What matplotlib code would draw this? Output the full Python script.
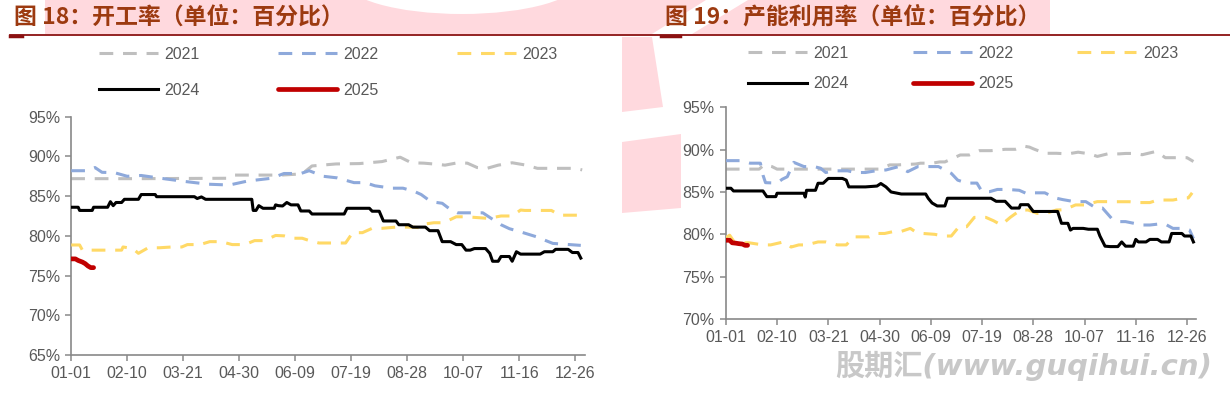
import numpy as np
import matplotlib.pyplot as plt
from matplotlib.patches import Polygon, Ellipse
from matplotlib.lines import Line2D

# ---- dados: gráfico 18 (开工率) ----
d21_a = [0, 48, 112, 116, 150, 165, 172, 189, 206, 222, 230, 235, 243, 252, 262, 267, 276, 283, 290, 297, 305, 315, 325, 333, 345, 360, 365]
v21_a = [87.2, 87.2, 87.25, 87.65, 87.65, 87.8, 88.8, 89.05, 89.1, 89.35, 89.7, 89.9, 89.2, 89.15, 89.0, 88.9, 89.2, 89.15, 88.6, 88.5, 88.9, 89.2, 88.9, 88.5, 88.5, 88.5, 88.3]
d22_a = [0, 12, 17, 22, 31, 40, 50, 64, 81, 98, 113, 126, 143, 152, 164, 170, 180, 190, 202, 210, 217, 229, 237, 245, 250, 257, 265, 271, 276, 294, 300, 307, 313, 321, 332, 344, 364]
v22_a = [88.2, 88.2, 88.6, 88.0, 87.95, 87.5, 87.6, 87.25, 86.85, 86.5, 86.4, 86.9, 87.25, 87.85, 87.85, 88.2, 87.5, 87.3, 86.7, 86.7, 86.3, 86.0, 86.0, 85.6, 85.2, 84.3, 84.1, 83.3, 82.9, 82.9, 82.2, 81.4, 80.9, 80.5, 79.9, 79.05, 78.8]
d23_a = [0, 6, 8, 36, 37, 44, 48, 55, 63, 72, 79, 83, 92, 99, 107, 115, 124, 131, 138, 146,
         152, 158, 165, 171, 177, 196, 201, 208, 215, 222, 232, 244, 250, 253, 259, 266, 275, 282, 290, 298,
         307, 315, 321, 324, 343, 349, 363]
v23_a = [78.85, 78.85, 78.2, 78.2, 78.6, 78.4, 77.8, 78.5, 78.5, 78.6, 78.6, 78.9, 78.9, 79.27, 79.27, 78.9, 78.9, 79.4, 79.4, 80.05,
         80.0, 79.7, 79.7, 79.35, 79.1, 79.1, 80.4, 80.4, 80.95, 80.95, 81.1, 81.1, 81.0, 81.5, 81.65, 81.65, 82.4, 82.4, 82.3, 82.2,
         82.5, 82.5, 83.25, 83.2, 83.2, 82.6, 82.6]
d24_a = [0, 5, 6, 15, 16, 26, 28, 30, 32, 36, 38, 48, 50, 60, 61, 88, 90, 93, 96, 129,
         130, 132, 134, 137, 145, 146, 148, 151, 154, 157, 162, 164, 170, 172, 195, 197, 213, 215, 220, 223,
         232, 234, 241, 244, 253, 256, 262, 265, 271, 275, 279, 282, 285, 288, 296, 299, 301, 305, 307, 313,
         315, 318, 321, 335, 338, 344, 346, 355, 358, 362, 364]
v24_a = [83.6, 83.6, 83.2, 83.2, 83.6, 83.6, 84.3, 83.8, 84.2, 84.2, 84.6, 84.6, 85.2, 85.2, 84.93, 84.93, 84.7, 84.9, 84.6, 84.6,
         83.2, 83.2, 83.8, 83.47, 83.47, 83.9, 83.8, 83.76, 84.2, 83.9, 83.9, 83.13, 83.13, 82.75, 82.75, 83.47, 83.47, 83.1, 83.1, 81.87,
         81.87, 81.4, 81.4, 81.1, 81.1, 80.65, 80.65, 79.27, 79.27, 78.9, 78.9, 78.2, 78.2, 78.4, 78.4, 77.8, 76.8, 76.8, 77.4, 77.4,
         76.8, 78.0, 77.7, 77.7, 78.0, 78.0, 78.3, 78.3, 77.9, 77.9, 77.2]
d25_a = [0, 3, 5, 8, 10, 12, 14, 16]
v25_a = [77.1, 77.1, 76.9, 76.7, 76.5, 76.2, 76.0, 76.0]

# ---- dados: gráfico 19 (产能利用率) ----
d21_b = [0, 26, 30, 36, 40, 120, 128, 134, 148, 152, 161, 167, 171, 183, 190, 198, 207, 218, 226, 233, 237, 240, 249, 258, 267, 275, 284, 290, 298, 307, 312, 319, 325, 335, 338, 343, 360, 365]
v21_b = [87.7, 87.7, 88.2, 88.0, 87.7, 87.7, 88.2, 88.2, 88.3, 88.4, 88.4, 88.55, 88.55, 89.37, 89.37, 89.88, 89.88, 90.04, 90.04, 90.4, 90.3, 90.1, 89.57, 89.57, 89.5, 89.7, 89.5, 89.2, 89.5, 89.5, 89.55, 89.55, 89.4, 89.76, 89.6, 89.05, 89.05, 88.6]
d22_b = [0, 12, 19, 27, 29, 31, 40, 44, 48, 53, 61, 69, 74, 78, 84, 95, 101, 109, 117, 125, 130, 135, 142, 150, 166, 171, 176, 181, 188, 196, 200, 206, 212, 220, 229, 235, 241, 249, 257, 263, 272, 281, 289, 294, 301, 306, 312, 325, 331, 337, 343, 349, 358, 362, 365]
v22_b = [88.7, 88.7, 88.4, 88.4, 87.0, 86.1, 86.05, 86.5, 86.8, 88.5, 88.0, 88.0, 87.8, 87.3, 87.5, 87.5, 87.3, 87.3, 87.5, 87.6, 87.8, 88.0, 87.4, 88.0, 88.0, 87.6, 87.2, 86.4, 86.05, 86.05, 85.04, 85.04, 85.3, 85.3, 85.2, 84.8, 84.9, 84.9, 84.3, 84.1, 83.86, 83.86, 83.1, 83.1, 81.9, 81.5, 81.5, 81.1, 81.1, 81.2, 81.2, 80.7, 80.7, 80.5, 79.5]
d23_b = [0, 3, 7, 18, 29, 35, 45, 51, 57, 63, 72, 78, 87, 94, 100, 112, 118, 124, 130, 136, 144, 148, 154, 163, 170, 176, 182, 188, 194, 203, 209, 215, 222, 230, 236, 243, 250, 258, 264, 273, 280, 290, 300, 306, 315, 322, 331, 337, 349, 356, 361, 364]
v23_b = [79.6, 79.9, 79.0, 79.0, 78.75, 78.75, 79.1, 78.5, 78.75, 78.75, 79.1, 79.1, 78.75, 78.75, 79.7, 79.7, 80.1, 80.1, 80.3, 80.3, 80.7, 80.3, 80.1, 80.0, 79.8, 79.8, 80.9, 80.9, 82.0, 82.0, 81.6, 81.1, 82.0, 82.87, 82.87, 82.48, 82.48, 82.87, 82.9, 83.47, 83.47, 83.86, 83.86, 83.85, 83.85, 83.75, 83.75, 84.05, 84.05, 84.25, 84.3, 84.9]
d24_b = [0, 4, 6, 29, 32, 39, 40, 61, 62, 63, 70, 72, 76, 80, 91, 94, 96, 109, 118, 121, 125, 129, 137, 156, 158, 161, 165, 171, 173, 207, 211, 218, 223, 229, 230, 236, 240, 259, 262, 267, 269, 271, 279, 283, 290, 292, 296, 300, 306, 309, 312, 318, 320, 322, 328, 331, 337, 340, 346, 348, 356, 358, 363, 365]
v24_b = [85.44, 85.44, 85.12, 85.12, 84.45, 84.45, 84.85, 84.85, 84.4, 85.2, 85.2, 86.03, 86.03, 86.6, 86.6, 86.4, 85.6, 85.6, 85.7, 86.0, 85.6, 85.0, 84.76, 84.76, 84.25, 83.7, 83.35, 83.35, 84.26, 84.26, 83.9, 83.9, 83.1, 83.1, 83.5, 83.5, 82.7, 82.7, 81.3, 81.3, 80.5, 80.7, 80.7, 80.6, 80.6, 79.8, 78.6, 78.55, 78.55, 79.1, 78.6, 78.6, 79.4, 79.1, 79.1, 79.4, 79.4, 79.1, 79.1, 80.1, 80.1, 79.8, 79.8, 79.1]
d25_b = [0, 3, 5, 8, 10, 13, 15, 17]
v25_b = [79.3, 79.3, 79.0, 78.95, 78.9, 78.85, 78.7, 78.7]

TICK_DIAS = [0, 40, 80, 120, 160, 200, 240, 280, 320, 360]
TICK_LABELS = ['01-01', '02-10', '03-21', '04-30', '06-09', '07-19', '08-28', '10-07', '11-16', '12-26']
ANOS = ['2021', '2022', '2023', '2024', '2025']
CORES = ['#BFBFBF', '#8EA9DB', '#FFD966', '#000000', '#C00000']

W, H = 1230, 397
TXT = '#595959'
EIXO = '#898989'
ROSA = '#FFD9DE'
TITULO = '#9C3A10'
FONTE_NUM = ['Liberation Sans', 'DejaVu Sans']
FONTE_CJK = ['Noto Sans CJK SC', 'DejaVu Sans']
TAM = 11.5

fig = plt.figure(figsize=(W / 100, H / 100), dpi=100)


def px(x, y):
    # pixel (topo-esquerda) -> fração da figura
    return (x / W, 1 - y / H)


def poligono(pts, cor):
    fig.patches.append(Polygon([px(*p) for p in pts], closed=True, transform=fig.transFigure,
                               facecolor=cor, edgecolor='none', zorder=0))


# marca d'água rosa de fundo (aproximada)
poligono([(45, 0), (1050, 0), (1050, 34), (45, 34)], ROSA)
fig.patches.append(Ellipse(px(462, -20), 236 / W, 68 / H, transform=fig.transFigure,
                           facecolor='white', edgecolor='none', zorder=0))
poligono([(706, 0), (748, 0), (692, 34), (652, 34)], 'white')
poligono([(622, 37), (652, 37), (663, 107), (622, 112)], ROSA)
poligono([(622, 142), (681, 134), (681, 208), (622, 213)], ROSA)

# linha sob os títulos
fig.lines.append(Line2D([10 / W, 1.0], [1 - 35 / H] * 2, transform=fig.transFigure, color='#8B1111', lw=1.3))
for x0, x1 in [(10, 22), (661, 680)]:
    fig.lines.append(Line2D([x0 / W, x1 / W], [1 - 36 / H] * 2, transform=fig.transFigure, color='#8B1111', lw=2.5))

fig.text(14 / W, 1 - 17 / H, '图 18：开工率（单位：百分比）', family=FONTE_CJK, fontsize=16.5,
         fontweight='bold', color=TITULO, va='center', ha='left')
fig.text(665 / W, 1 - 17 / H, '图 19：产能利用率（单位：百分比）', family=FONTE_CJK, fontsize=16.5,
         fontweight='bold', color=TITULO, va='center', ha='left')

fig.text(1212 / W, 1 - 366 / H, '股期汇(www.guqihui.cn)', family=['DejaVu Sans', 'Noto Sans CJK SC'],
         fontsize=21, fontweight='bold', style='italic', color='#C8C8C8', va='center', ha='right')


def painel(rect, series, ylim, leg_pos, leg_sp, leg_col):
    ax = fig.add_axes(rect)
    ax.set_facecolor('none')
    estilos = []
    for i, (d, v) in enumerate(series):
        if i < 3:
            ln, = ax.plot(d, v, color=CORES[i], lw=2.2, dashes=(4.5, 3.2), label=ANOS[i], zorder=2 + i)
        elif i == 3:
            ln, = ax.plot(d, v, color=CORES[i], lw=2.2, label=ANOS[i], zorder=6)
        else:
            ln, = ax.plot(d, v, color=CORES[i], lw=3.4, label=ANOS[i], zorder=7, solid_capstyle='round')
        estilos.append(ln)
    ax.set_xlim(0, 367)
    ax.set_ylim(*ylim)
    ax.set_xticks(TICK_DIAS)
    ax.set_xticklabels(TICK_LABELS)
    ax.set_yticks(np.arange(ylim[0], ylim[1] + 1, 5))
    ax.set_yticklabels([f'{int(t)}%' for t in np.arange(ylim[0], ylim[1] + 1, 5)])
    for s in ['top', 'right']:
        ax.spines[s].set_visible(False)
    for s in ['left', 'bottom']:
        ax.spines[s].set_color(EIXO)
        ax.spines[s].set_linewidth(1.2)
    ax.tick_params(axis='both', direction='out', length=4, width=1.1, color=EIXO,
                   labelcolor=TXT, labelsize=TAM)
    ax.tick_params(axis='x', pad=4)
    ax.tick_params(axis='y', pad=4)
    for lb in ax.get_xticklabels() + ax.get_yticklabels():
        lb.set_family(FONTE_NUM)
    ordem = [0, 3, 1, 4, 2]
    leg = ax.legend([estilos[k] for k in ordem], [ANOS[k] for k in ordem], ncol=3,
                    loc='upper left', bbox_to_anchor=px(*leg_pos), bbox_transform=fig.transFigure,
                    frameon=False, borderpad=0, borderaxespad=0, handlelength=3.7,
                    handletextpad=0.4, columnspacing=leg_col, labelspacing=leg_sp,
                    prop={'family': FONTE_NUM, 'size': TAM})
    for t in leg.get_texts():
        t.set_color(TXT)
    return ax


serie_a = [(d21_a, v21_a), (d22_a, v22_a), (d23_a, v23_a), (d24_a, v24_a), (d25_a, v25_a)]
serie_b = [(d21_b, v21_b), (d22_b, v22_b), (d23_b, v23_b), (d24_b, v24_b), (d25_b, v25_b)]

painel([71.2 / W, 1 - 355 / H, (585 - 71.2) / W, (355 - 116.7) / H], serie_a, (65, 95),
       (99, 47), 1.3, 4.9)
painel([725.8 / W, 1 - 319 / H, (1196 - 725.8) / W, (319 - 107.3) / H], serie_b, (70, 95),
       (748, 46), 0.95, 4.0)

fig.savefig('out.png', dpi=100)
